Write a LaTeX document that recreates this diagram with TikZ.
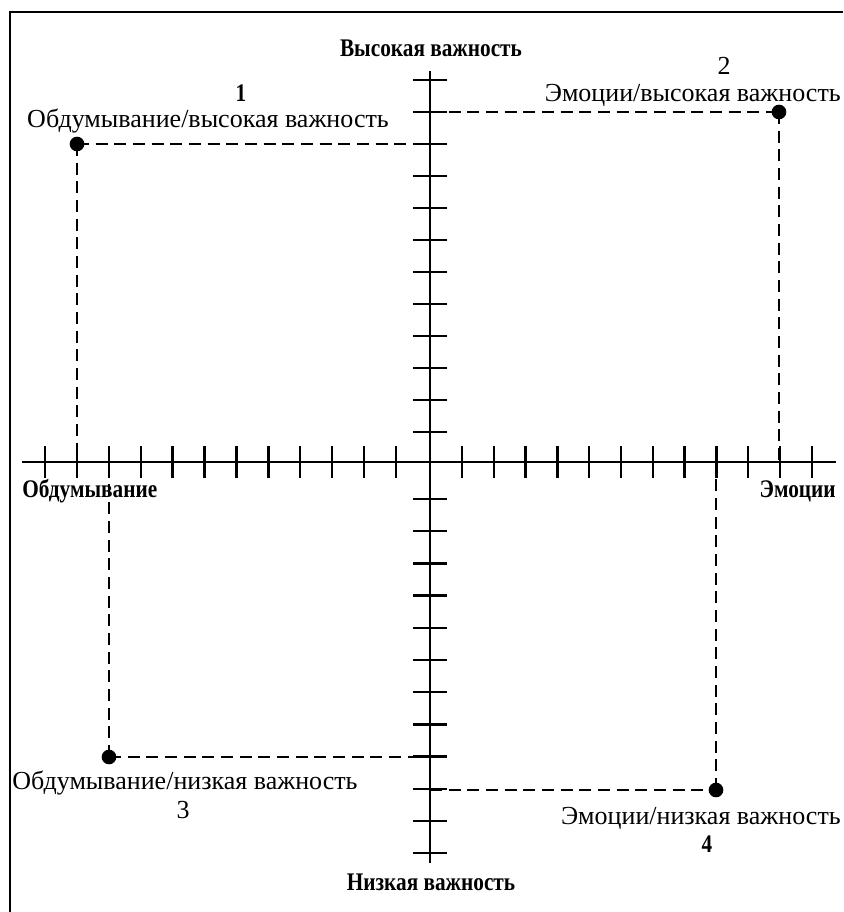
\documentclass[tikz,border=0pt]{standalone}
\usepackage{fontspec}
\setmainfont{Liberation Serif}
\newfontfamily\condserif{Liberation Serif}[FakeStretch=0.84]
\begin{document}
\begin{tikzpicture}[x=0.75pt,y=-0.75pt,
  axis/.style={line width=1.8pt},
  tickmark/.style={line width=1.8pt},
  guide/.style={line width=1.8pt, dash pattern=on 9pt off 5pt},
  dot/.style={circle, fill=black, inner sep=0pt, minimum size=11pt},
  lbl/.style={font=\fontsize{19.5}{23}\selectfont, inner sep=0pt},
  blbl/.style={font=\condserif\fontsize{19}{22}\selectfont\bfseries, inner sep=0pt}]
\useasboundingbox (0,0) rectangle (843,912);
% frame of the scanned page
\draw[line width=1pt] (10,912) -- (10,12) -- (843,12);
% axes
\coordinate (L) at (22,462);
\coordinate (R) at (836,462);
\coordinate (T) at (430,71);
\coordinate (B) at (430,863);
\draw[axis] (L) -- (R);
\draw[axis] (T) -- (B);
% ticks
\foreach \i in {0,...,11} {
  \draw[tickmark] ({45+31.9*\i},446) -- ++(0,32);
  \draw[tickmark] ({462+31.8*\i},446) -- ++(0,32);
  \draw[tickmark] (413,{80+32*\i}) -- ++(34,0);
  \draw[tickmark] (413,{499+32.2*\i}) -- ++(34,0);
}
% points
\node[dot] (p1) at (77,144) {};
\node[dot] (p2) at (779,112) {};
\node[dot] (p3) at (109,757) {};
\node[dot] (p4) at (716,790) {};
\coordinate (p1h) at (430,144);
\coordinate (p1v) at (77,462);
\coordinate (p2h) at (430,112);
\coordinate (p2v) at (779,462);
\coordinate (p3h) at (430,757);
\coordinate (p3v) at (109,462);
\coordinate (p4h) at (430,790);
\coordinate (p4v) at (716,462);
\draw[guide] (p1.center) -- (p1h);
\draw[guide] (p1.center) -- (p1v);
\draw[guide] (p2h) -- (p2.center);
\draw[guide] (p2.center) -- (p2v);
\draw[guide] (p3.center) -- (p3v);
\draw[guide] (p3.center) -- (p3h);
\draw[guide] (p4h) -- (p4.center);
\draw[guide] (p4.center) -- (p4v);
% labels
\node[blbl] (hi) at (431,48) {Высокая важность};
\node[blbl] (lo) at (431,882) {Низкая важность};
\node[blbl, anchor=west] (th) at (22,491) {Обдумывание};
\node[blbl, anchor=east] (em) at (836,491) {Эмоции};
\node[lbl] (n2) at (724,66) {2};
\node[lbl, anchor=east] (l2) at (841,95) {Эмоции/высокая важность};
\node[blbl] (n1) at (241,93) {1};
\node[lbl] (l1) at (208,121) {Обдумывание/высокая важность};
\node[lbl, anchor=west] (l3) at (12,783) {Обдумывание/низкая важность};
\node[lbl] (n3) at (183,810) {3};
\node[lbl, anchor=east] (l4) at (841,818) {Эмоции/низкая важность};
\node[blbl] (n4) at (707,844) {4};
\end{tikzpicture}
\end{document}
